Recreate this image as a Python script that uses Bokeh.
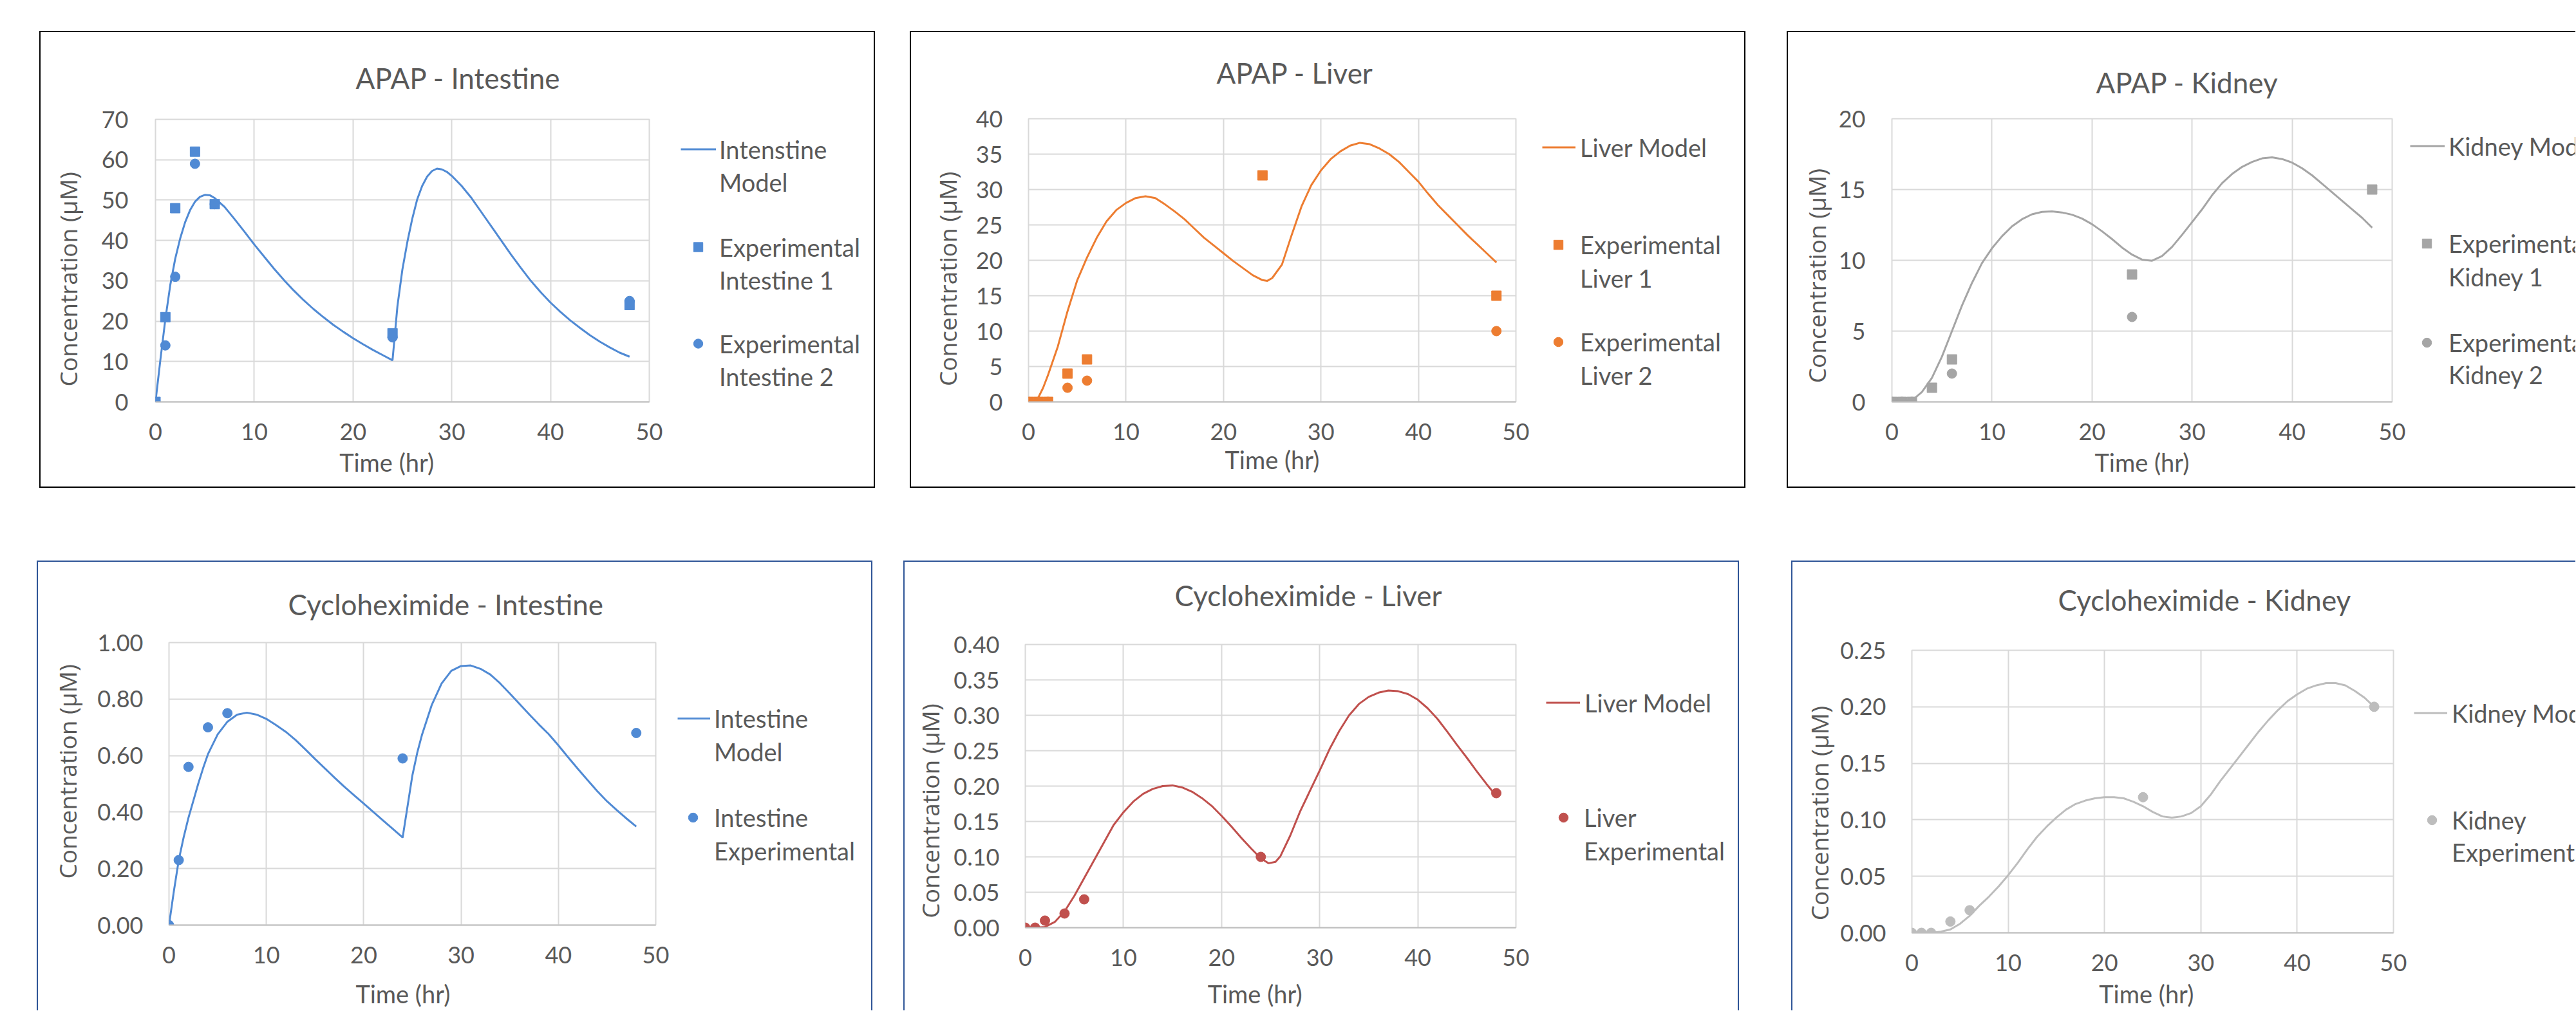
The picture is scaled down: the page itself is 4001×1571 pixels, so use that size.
from bokeh.plotting import figure
from bokeh.layouts import row, column
from bokeh.models import (Range1d, FixedTicker, NumeralTickFormatter, Legend,
                          LegendItem, Title, Spacer)
from bokeh.embed import file_html
from bokeh.resources import INLINE

# ---------------- data ----------------
x_ticks = [0, 10, 20, 30, 40, 50]
x_title = "Time (hr)"
y_title = "Concentration (μM)"

# APAP - Intestine
apap_int_model_t = [0, 0.5, 1, 1.5, 2, 2.5, 3, 3.5, 4, 4.5, 5, 5.5, 6, 7, 8, 9, 10, 11, 12, 13,
                    14, 15, 16, 17, 18, 19, 20, 21, 22, 23, 24, 24.5, 25, 25.5, 26, 26.5, 27,
                    27.5, 28, 28.5, 29, 29.5, 30, 31, 32, 33, 34, 35, 36, 37, 38, 39, 40, 41,
                    42, 43, 44, 45, 46, 47, 48]
apap_int_model_c = [0, 10.5, 20.5, 29, 35.5, 40.5, 44.5, 47.5, 49.6, 50.8, 51.3, 51.2, 50.5,
                    48.3, 45.3, 42.2, 39, 36, 33, 30.2, 27.6, 25.2, 23, 21, 19.1, 17.4, 15.8,
                    14.3, 12.9, 11.6, 10.3, 23.8, 32.8, 39.6, 45.4, 50.2, 53.5, 55.8, 57.2,
                    57.8, 57.6, 57, 56, 53.5, 50.5, 47, 43.5, 40, 36.5, 33.2, 30, 27.2, 24.6,
                    22.3, 20.2, 18.3, 16.5, 14.9, 13.5, 12.2, 11.2]
apap_int_exp1_t = [0, 1, 2, 4, 6, 24, 48]
apap_int_exp1_c = [0, 21, 48, 62, 49, 17, 24]
apap_int_exp2_t = [0, 1, 2, 4, 6, 24, 48]
apap_int_exp2_c = [0, 14, 31, 59, 49, 16, 25]

# APAP - Liver
apap_liv_model_t = [0.7, 1, 1.5, 2, 2.5, 3, 4, 5, 6, 7, 8, 9, 10, 11, 12, 13, 14, 15, 16, 17,
                    18, 19, 20, 21, 22, 23, 24, 24.5, 25, 26, 27, 28, 29, 30, 31, 32, 33, 34,
                    35, 36, 37, 38, 39, 40, 41, 42, 43, 44, 45, 46, 47, 48]
apap_liv_model_c = [0, 0.6, 2.0, 3.8, 5.8, 7.8, 12.8, 17.2, 20.4, 23.2, 25.5, 27.1, 28.1, 28.8,
                    29.05, 28.8, 27.9, 26.9, 25.8, 24.5, 23.2, 22.1, 21.0, 19.9, 18.9, 17.9,
                    17.2, 17.1, 17.5, 19.4, 23.6, 27.6, 30.6, 32.7, 34.3, 35.4, 36.2, 36.6,
                    36.4, 35.8, 35.0, 33.9, 32.5, 31.1, 29.4, 27.8, 26.4, 25.0, 23.6, 22.3,
                    21.0, 19.7]
apap_liv_exp1_t = [0, 1, 2, 4, 6, 24, 48]
apap_liv_exp1_c = [0, 0, 0, 4, 6, 32, 15]
apap_liv_exp2_t = [0, 1, 2, 4, 6, 48]
apap_liv_exp2_c = [0, 0, 0, 2, 3, 10]

# APAP - Kidney
apap_kid_model_t = [1.5, 2, 3, 4, 5, 6, 7, 8, 9, 10, 11, 12, 13, 14, 15, 16, 17, 18, 19, 20,
                    21, 22, 23, 24, 25, 26, 27, 28, 29, 30, 31, 32, 33, 34, 35, 36, 37, 38,
                    39, 40, 41, 42, 43, 44, 45, 46, 47, 48]
apap_kid_model_c = [0, 0.1, 0.7, 1.7, 3.2, 5.0, 6.8, 8.4, 9.8, 10.85, 11.7, 12.4, 12.9, 13.25,
                    13.42, 13.45, 13.38, 13.22, 12.95, 12.55, 12.05, 11.5, 10.9, 10.4, 10.05,
                    9.97, 10.3, 10.95, 11.8, 12.7, 13.6, 14.6, 15.45, 16.1, 16.6, 16.95, 17.2,
                    17.27, 17.15, 16.9, 16.5, 16.0, 15.4, 14.8, 14.2, 13.6, 13.0, 12.3]
apap_kid_exp1_t = [0, 1, 2, 4, 6, 24, 48]
apap_kid_exp1_c = [0, 0, 0, 1, 3, 9, 15]
apap_kid_exp2_t = [0, 1, 2, 6, 24]
apap_kid_exp2_c = [0, 0, 0, 2, 6]

# Cycloheximide - Intestine
cyc_int_model_t = [0, 0.5, 1, 1.5, 2, 2.5, 3, 3.5, 4, 5, 6, 7, 8, 9, 10, 11, 12, 13, 14, 15,
                   16, 17, 18, 19, 20, 21, 22, 23, 24, 24.5, 25, 25.5, 26, 27, 28, 29, 30,
                   31, 32, 33, 34, 35, 36, 37, 38, 39, 40, 41, 42, 43, 44, 45, 46, 47, 48]
cyc_int_model_c = [0, 0.12, 0.23, 0.31, 0.38, 0.44, 0.50, 0.555, 0.605, 0.675, 0.72, 0.745,
                   0.752, 0.745, 0.73, 0.708, 0.684, 0.655, 0.622, 0.588, 0.555, 0.522, 0.49,
                   0.46, 0.43, 0.40, 0.37, 0.34, 0.31, 0.42, 0.53, 0.61, 0.675, 0.78, 0.855,
                   0.90, 0.917, 0.919, 0.907, 0.887, 0.856, 0.82, 0.783, 0.746, 0.71, 0.676,
                   0.636, 0.594, 0.553, 0.513, 0.474, 0.438, 0.407, 0.377, 0.349]
cyc_int_exp_t = [0, 1, 2, 4, 6, 24, 48]
cyc_int_exp_c = [0, 0.23, 0.56, 0.70, 0.75, 0.59, 0.68]

# Cycloheximide - Liver
cyc_liv_model_t = [1, 2, 3, 4, 5, 6, 7, 8, 9, 10, 11, 12, 13, 14, 15, 16, 17, 18, 19, 20, 21,
                   22, 23, 24, 24.8, 25.5, 26, 27, 28, 29, 30, 31, 32, 33, 34, 35, 36, 37, 38,
                   39, 40, 41, 42, 43, 44, 45, 46, 47, 48]
cyc_liv_model_c = [0, 0.001, 0.008, 0.023, 0.045, 0.07, 0.095, 0.12, 0.145, 0.163, 0.178,
                   0.189, 0.196, 0.2, 0.201, 0.198, 0.192, 0.183, 0.172, 0.158, 0.143, 0.127,
                   0.112, 0.098, 0.091, 0.093, 0.101, 0.13, 0.164, 0.193, 0.222, 0.252, 0.278,
                   0.30, 0.316, 0.326, 0.332, 0.335, 0.334, 0.33, 0.322, 0.31, 0.295, 0.277,
                   0.258, 0.24, 0.221, 0.203, 0.186]
cyc_liv_exp_t = [0, 1, 2, 4, 6, 24, 48]
cyc_liv_exp_c = [0, 0, 0.01, 0.02, 0.04, 0.10, 0.19]

# Cycloheximide - Kidney
cyc_kid_model_t = [2, 3, 4, 5, 6, 7, 8, 9, 10, 11, 12, 13, 14, 15, 16, 17, 18, 19, 20, 21, 22,
                   23, 24, 25, 26, 27, 28, 29, 30, 31, 32, 33, 34, 35, 36, 37, 38, 39, 40, 41,
                   42, 43, 44, 45, 46, 47, 48]
cyc_kid_model_c = [0, 0.001, 0.003, 0.008, 0.015, 0.024, 0.032, 0.041, 0.051, 0.062, 0.074,
                   0.085, 0.094, 0.102, 0.109, 0.114, 0.117, 0.119, 0.12, 0.12, 0.119, 0.116,
                   0.112, 0.107, 0.103, 0.102, 0.103, 0.106, 0.112, 0.122, 0.134, 0.145,
                   0.156, 0.167, 0.178, 0.188, 0.197, 0.205, 0.211, 0.216, 0.219, 0.221,
                   0.221, 0.219, 0.214, 0.208, 0.20]
cyc_kid_exp_t = [0, 1, 2, 4, 6, 24, 48]
cyc_kid_exp_c = [0, 0, 0, 0.01, 0.02, 0.12, 0.20]

apap_int_yticks = [0, 10, 20, 30, 40, 50, 60, 70]
apap_liv_yticks = [0, 5, 10, 15, 20, 25, 30, 35, 40]
apap_kid_yticks = [0, 5, 10, 15, 20]
cyc_int_yticks = [0, 0.2, 0.4, 0.6, 0.8, 1.0]
cyc_liv_yticks = [0, 0.05, 0.1, 0.15, 0.2, 0.25, 0.3, 0.35, 0.4]
cyc_kid_yticks = [0, 0.05, 0.1, 0.15, 0.2, 0.25]

# ---------------- styles ----------------
TXT = "#595959"
GRID = "#D9D9D9"
BLUE = "#508AD4"
ORANGE = "#ED7D31"
GRAY = "#A5A5A5"
RED = "#C0504D"
LGRAY = "#BDBDBD"
LATO = "Lato"
OPEN = "Open Sans"
BK = "2px solid #000000"
BL = "2px solid #2F5597"
NB = "\u00a0"


def borders(sides, spec):
    return {"border-" + s: spec for s in sides}


def make_chart(cfg):
    hx, hy, hw, hh = cfg["host"]
    bl = 2
    bt = 2
    bb = 2 if cfg["bottom_border"] else 0
    cx, cy = hx + bl, hy + bt
    cw, ch = hw - bl, hh - bt - bb
    fl, ft, fr, fb = cfg["frame"]
    sides = ["left", "top"] + (["bottom"] if cfg["bottom_border"] else [])
    p = figure(width=hw, height=hh, output_backend="svg", toolbar_location=None,
               x_range=Range1d(0, 50), y_range=Range1d(0, cfg["yticks"][-1]),
               min_border_left=fl - cx, min_border_right=cx + cw - fr,
               min_border_top=ft - cy, min_border_bottom=cy + ch - fb,
               styles=borders(sides, cfg["bspec"]),
               background_fill_color="white", border_fill_color="white")
    p.outline_line_color = GRID
    p.outline_line_width = 2

    # titles: blank spacer nearest the frame, then the real title above it
    p.add_layout(Title(text=" ", standoff=cfg["blank"], text_font_size="10px"), "above")
    p.add_layout(Title(text=cfg["title"], align="left", offset=cfg["title_off"], standoff=0,
                       vertical_align="top", text_font=LATO, text_font_size="44px",
                       text_font_style="normal", text_color=TXT), "above")

    xa = p.xaxis[0]
    xa.ticker = FixedTicker(ticks=x_ticks)
    xa.axis_line_color = "#BFBFBF"
    xa.axis_line_width = 2
    xa.major_tick_out = 0
    xa.major_tick_in = 0
    xa.minor_tick_out = 0
    xa.minor_tick_in = 0
    xa.major_label_standoff = 33
    xa.major_label_text_font = LATO
    xa.major_label_text_font_size = "36px"
    xa.major_label_text_color = TXT
    xa.axis_label = x_title + NB * cfg["xpad"]
    xa.axis_label_text_font = LATO
    xa.axis_label_text_font_size = "38px"
    xa.axis_label_text_font_style = "normal"
    xa.axis_label_text_color = TXT
    xa.axis_label_standoff = cfg["xlab_so"]

    ya = p.yaxis[0]
    ya.ticker = FixedTicker(ticks=cfg["yticks"])
    ya.formatter = NumeralTickFormatter(format=cfg["yfmt"])
    ya.axis_line_color = None
    ya.major_tick_out = 0
    ya.major_tick_in = 0
    ya.minor_tick_out = 0
    ya.minor_tick_in = 0
    ya.major_label_standoff = cfg["ytick_so"]
    ya.major_label_text_font = LATO
    ya.major_label_text_font_size = "36px"
    ya.major_label_text_color = TXT
    yp = cfg["ypad"]
    ya.axis_label = (NB * (-yp) if yp < 0 else "") + y_title + (NB * yp if yp > 0 else "")
    ya.axis_label_text_font = OPEN
    ya.axis_label_text_font_size = "37px"
    ya.axis_label_text_font_style = "normal"
    ya.axis_label_text_color = TXT
    ya.axis_label_standoff = cfg["ylab_so"]

    p.xgrid[0].ticker = FixedTicker(ticks=x_ticks)
    p.ygrid[0].ticker = FixedTicker(ticks=cfg["yticks"])
    for g in (p.xgrid[0], p.ygrid[0]):
        g.grid_line_color = GRID
        g.grid_line_width = 2

    col = cfg["color"]
    mt, mc = cfg["model"]
    p.line(mt, mc, line_color=col, line_width=3)
    for kind, (et, ec) in cfg["exp"]:
        p.scatter(et, ec, marker=kind, size=15, fill_color=col, line_color=col)
    return p


def make_legend_fig(cfg):
    # legend box to the right of the chart; its frame is aligned with the chart frame
    hx, hy, hw, hh = cfg["lhost"]
    br = 2 if cfg["right_border"] else 0
    bb = 2 if cfg["bottom_border"] else 0
    lx = hx
    fl, ft, fr, fb = cfg["frame"]
    sides = ["top"] + (["right"] if br else []) + (["bottom"] if bb else [])
    lf = figure(width=hw, height=hh, output_backend="svg", toolbar_location=None,
                x_range=Range1d(0, 1), y_range=Range1d(0, 1),
                x_axis_location=None, y_axis_location=None, min_border=0,
                styles=borders(sides, cfg["bspec"]),
                background_fill_color="white", border_fill_color="white")
    lf.outline_line_color = None
    lf.grid.visible = False
    col = cfg["color"]
    off = [-10]  # keys for the legend glyphs, kept outside the visible range
    rends = {"line": lf.line(x=off, y=off, line_color=col, line_width=3),
             "square": lf.scatter(x=off, y=off, marker="square", size=15,
                                  fill_color=col, line_color=col),
             "circle": lf.scatter(x=off, y=off, marker="circle", size=15,
                                  fill_color=col, line_color=col)}
    blank = lf.line(x=off, y=off, line_alpha=0)
    for kind, lines, gx, gw, lso, c1, pitch in cfg["legend"]:
        items = [LegendItem(label=lines[0], renderers=[rends[kind]])]
        for ln in lines[1:]:
            items.append(LegendItem(label=ln, renderers=[blank]))
        top = c1 - pitch / 2.0
        bottom = top + pitch * len(lines)
        loc = (gx - lx, round(fb - bottom))
        lf.add_layout(Legend(items=items, location=loc, orientation="vertical",
                             glyph_width=gw, glyph_height=pitch, label_height=pitch,
                             spacing=0, padding=0, margin=0, label_standoff=lso,
                             border_line_alpha=0, background_fill_alpha=0,
                             label_text_font=LATO, label_text_font_size="38px",
                             label_text_color=TXT, label_text_baseline="middle"))
    return lf


panels = [
    dict(host=(61, 48, 973, 710), lhost=(1034, 48, 325, 710), frame=(241, 185, 1006, 620),
         bspec=BK, bottom_border=True, right_border=True,
         title="APAP - Intestine", title_off=311, blank=24,
         yticks=apap_int_yticks, yfmt="0", ytick_so=42, ylab_so=24, ypad=6,
         xlab_so=8, xpad=5, color=BLUE,
         model=(apap_int_model_t, apap_int_model_c),
         exp=[("square", (apap_int_exp1_t, apap_int_exp1_c)),
              ("circle", (apap_int_exp2_t, apap_int_exp2_c))],
         legend=[("line", ["Intenstine", "Model"], 1057, 55, 5, 227, 51),
                 ("square", ["Experimental", "Intestine 1"], 1066, 36, 15, 379, 51),
                 ("circle", ["Experimental", "Intestine 2"], 1066, 36, 15, 529, 51)]),
    dict(host=(1413, 48, 967, 710), lhost=(2380, 48, 331, 710), frame=(1597, 184, 2352, 620),
         bspec=BK, bottom_border=True, right_border=True,
         title="APAP - Liver", title_off=292, blank=31,
         yticks=apap_liv_yticks, yfmt="0", ytick_so=40, ylab_so=16, ypad=6,
         xlab_so=4, xpad=0, color=ORANGE,
         model=(apap_liv_model_t, apap_liv_model_c),
         exp=[("square", (apap_liv_exp1_t, apap_liv_exp1_c)),
              ("circle", (apap_liv_exp2_t, apap_liv_exp2_c))],
         legend=[("line", ["Liver Model"], 2395, 52, 7, 225, 51),
                 ("square", ["Experimental", "Liver 1"], 2402, 36, 16, 376, 52),
                 ("circle", ["Experimental", "Liver 2"], 2402, 36, 16, 527, 52)]),
    dict(host=(2775, 48, 966, 710), lhost=(3741, 48, 259, 710), frame=(2938, 184, 3713, 620),
         bspec=BK, bottom_border=True, right_border=False,
         title="APAP - Kidney", title_off=317, blank=16,
         yticks=apap_kid_yticks, yfmt="0", ytick_so=41, ylab_so=6, ypad=5,
         xlab_so=8, xpad=0, color=GRAY,
         model=(apap_kid_model_t, apap_kid_model_c),
         exp=[("square", (apap_kid_exp1_t, apap_kid_exp1_c)),
              ("circle", (apap_kid_exp2_t, apap_kid_exp2_c))],
         legend=[("line", ["Kidney Model"], 3743, 54, 6, 222, 51),
                 ("square", ["Experimental", "Kidney 1"], 3751, 36, 16, 374, 52),
                 ("circle", ["Experimental", "Kidney 2"], 3751, 36, 16, 528, 50)]),
    dict(host=(57, 871, 987, 699), lhost=(1044, 871, 311, 699), frame=(262, 998, 1016, 1435),
         bspec=BL, bottom_border=False, right_border=True,
         title="Cycloheximide - Intestine", title_off=185, blank=19,
         yticks=cyc_int_yticks, yfmt="0.00", ytick_so=40, ylab_so=18, ypad=-4,
         xlab_so=21, xpad=3, color=BLUE,
         model=(cyc_int_model_t, cyc_int_model_c),
         exp=[("circle", (cyc_int_exp_t, cyc_int_exp_c))],
         legend=[("line", ["Intestine", "Model"], 1052, 51, 6, 1114, 52),
                 ("circle", ["Intestine", "Experimental"], 1058, 36, 15, 1268, 52)]),
    dict(host=(1403, 871, 977, 699), lhost=(2380, 871, 321, 699), frame=(1592, 1001, 2352, 1439),
         bspec=BL, bottom_border=False, right_border=True,
         title="Cycloheximide - Liver", title_off=232, blank=36,
         yticks=cyc_liv_yticks, yfmt="0.00", ytick_so=40, ylab_so=8, ypad=8,
         xlab_so=17, xpad=5, color=RED,
         model=(cyc_liv_model_t, cyc_liv_model_c),
         exp=[("circle", (cyc_liv_exp_t, cyc_liv_exp_c))],
         legend=[("line", ["Liver Model"], 2401, 53, 7, 1090, 51),
                 ("circle", ["Liver", "Experimental"], 2410, 36, 14, 1268, 52)]),
    dict(host=(2782, 871, 961, 699), lhost=(3743, 871, 257, 699), frame=(2969, 1010, 3715, 1447),
         bspec=BL, bottom_border=False, right_border=False,
         title="Cycloheximide - Kidney", title_off=227, blank=38,
         yticks=cyc_kid_yticks, yfmt="0.00", ytick_so=40, ylab_so=4, ypad=7,
         xlab_so=9, xpad=2, color=LGRAY,
         model=(cyc_kid_model_t, cyc_kid_model_c),
         exp=[("circle", (cyc_kid_exp_t, cyc_kid_exp_c))],
         legend=[("line", ["Kidney Model"], 3749, 52, 7, 1106, 51),
                 ("circle", ["Kidney", "Experimental"], 3759, 36, 13, 1272, 50)]),
]

boxes = [row(make_chart(c), make_legend_fig(c)) for c in panels]

row1 = row(Spacer(width=61, height=710), boxes[0], Spacer(width=54, height=710), boxes[1],
           Spacer(width=64, height=710), boxes[2])
row2 = row(Spacer(width=57, height=699), boxes[3], Spacer(width=48, height=699), boxes[4],
           Spacer(width=81, height=699), boxes[5])
layout = column(Spacer(width=4000, height=48), row1, Spacer(width=4000, height=113), row2)

open("out.html", "w").write(file_html(layout, INLINE, "Concentration charts"))
